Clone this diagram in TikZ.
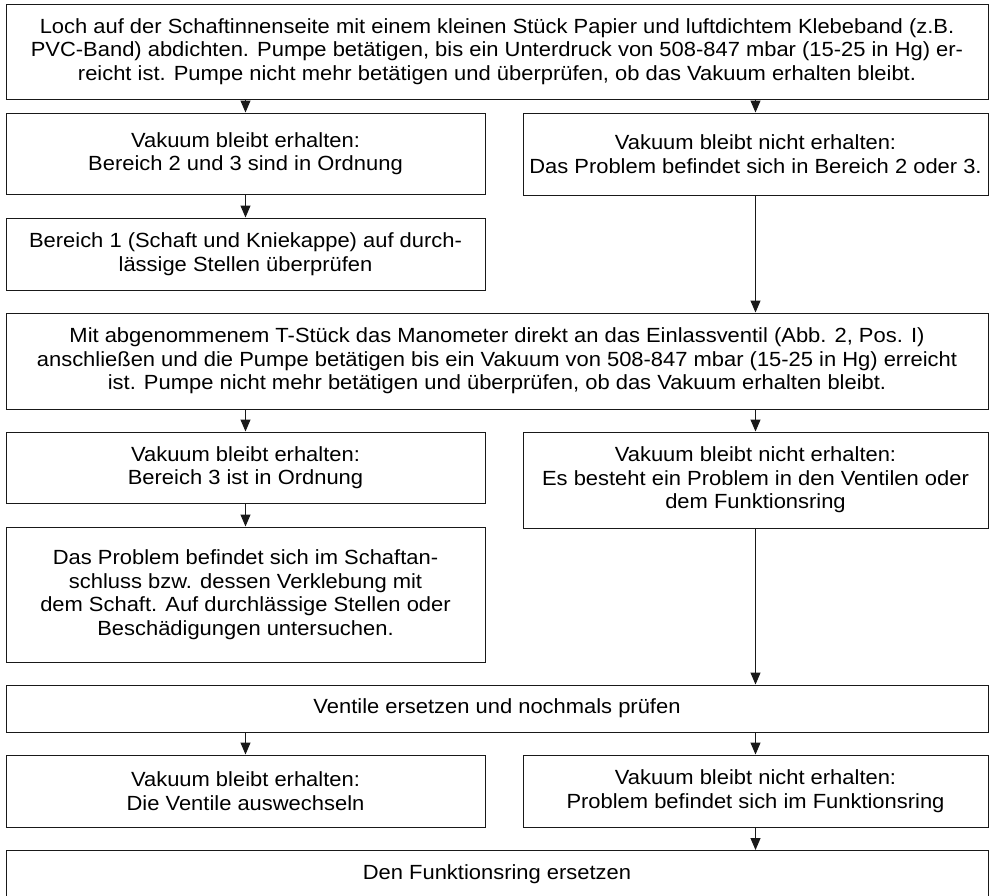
\documentclass[tikz,border=0pt]{standalone}
\usepackage{fontspec}
\setmainfont[FakeStretch=1.07]{Liberation Sans}
\usetikzlibrary{arrows.meta}
\begin{document}
\begin{tikzpicture}[x=1pt,y=-1pt,
  box/.style={draw=black!90, line width=1pt, inner sep=0pt, align=center,
    font=\fontsize{20.5}{23.5}\selectfont},
  wide/.style={box, minimum width=982pt},
  col/.style={box, minimum width=479pt},
  colr/.style={box, minimum width=465pt},
  flow/.style={draw=black!90, line width=1pt, -{Triangle[length=12pt,width=10pt]}}]
\useasboundingbox (0,0) rectangle (993,895);
\clip (0,0) rectangle (993,895);

% step 1: seal the shaft
\node[wide, minimum height=95pt] (top) at (497,51.5)
  {Loch auf der Schaftinnenseite mit einem kleinen Stück Papier und luftdichtem Klebeband (z.B.\\
   PVC-Band) abdichten. Pumpe betätigen, bis ein Unterdruck von 508-847 mbar (15-25 in Hg) er-\\
   reicht ist. Pumpe nicht mehr betätigen und überprüfen, ob das Vakuum erhalten bleibt.};

\node[col, minimum height=81pt] (okA) at (245.5,153.5)
  {Vakuum bleibt erhalten:\\Bereich 2 und 3 sind in Ordnung};
\node[colr, minimum height=82pt] (failA) at (755.5,154)
  {Vakuum bleibt nicht erhalten:\\Das Problem befindet sich in Bereich 2 oder 3.};
\node[col, minimum height=72pt] (area1) at (245.5,254)
  {Bereich 1 (Schaft und Kniekappe) auf durch-\\lässige Stellen überprüfen};

% step 2: gauge at the inlet valve
\node[wide, minimum height=96pt] (valve) at (497,361)
  {Mit abgenommenem T-Stück das Manometer direkt an das Einlassventil (Abb. 2, Pos. I)\\
   anschließen und die Pumpe betätigen bis ein Vakuum von 508-847 mbar (15-25 in Hg) erreicht\\
   ist. Pumpe nicht mehr betätigen und überprüfen, ob das Vakuum erhalten bleibt.};

\node[col, minimum height=71pt] (okB) at (245.5,467.5)
  {Vakuum bleibt erhalten:\\Bereich 3 ist in Ordnung};
\node[colr, minimum height=96pt] (failB) at (755.5,480)
  {Vakuum bleibt nicht erhalten:\\Es besteht ein Problem in den Ventilen oder\\dem Funktionsring};
\node[col, minimum height=135pt] (socket) at (245.5,594.5)
  {Das Problem befindet sich im Schaftan-\\schluss bzw. dessen Verklebung mit\\
   dem Schaft. Auf durchlässige Stellen oder\\Beschädigungen untersuchen.};

% step 3: replace the valves
\node[wide, minimum height=47pt] (replace) at (497,708.5)
  {Ventile ersetzen und nochmals prüfen};
\node[col, minimum height=72pt] (okC) at (245.5,791)
  {Vakuum bleibt erhalten:\\Die Ventile auswechseln};
\node[colr, minimum height=72pt] (failC) at (755.5,791)
  {Vakuum bleibt nicht erhalten:\\Problem befindet sich im Funktionsring};

% last box runs past the lower edge of the page
\node[wide, minimum height=80pt, anchor=north] (ring) at (497,850) {};
\node[box, draw=none] (ringtxt) at (497,874) {Den Funktionsring ersetzen};

% connectors
\draw[flow] (okA.north |- top.south) -- (okA.north);
\draw[flow] (failA.north |- top.south) -- (failA.north);
\draw[flow] (okA.south) -- (area1.north);
\draw[flow] (failA.south) -- (failA.south |- valve.north);
\draw[flow] (okB.north |- valve.south) -- (okB.north);
\draw[flow] (failB.north |- valve.south) -- (failB.north);
\draw[flow] (okB.south) -- (socket.north);
\draw[flow] (failB.south) -- (failB.south |- replace.north);
\draw[flow] (okC.north |- replace.south) -- (okC.north);
\draw[flow] (failC.north |- replace.south) -- (failC.north);
\draw[flow] (failC.south) -- (failC.south |- ring.north);
\end{tikzpicture}
\end{document}
